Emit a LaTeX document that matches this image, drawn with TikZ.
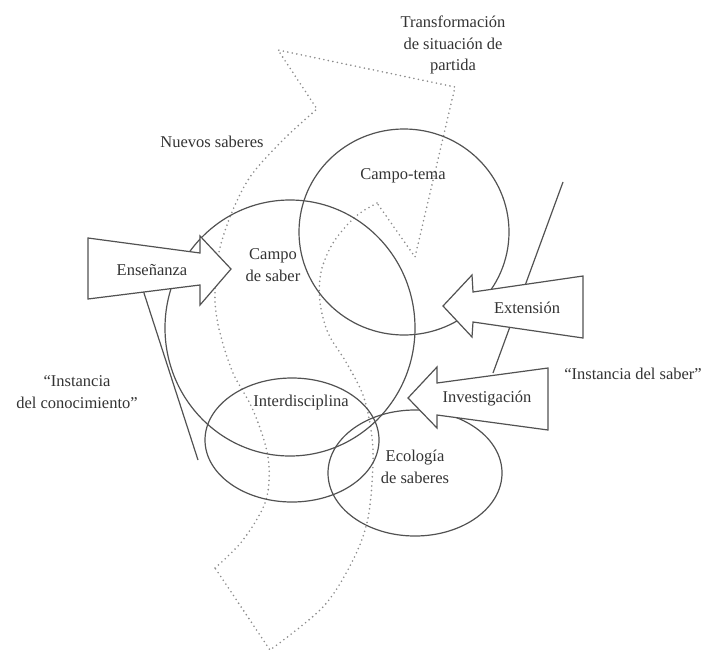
\documentclass[tikz,border=0pt]{standalone}
\usepackage{fontspec}
\setmainfont{Liberation Serif}
\begin{document}
\begin{tikzpicture}[x=1pt,y=-1pt,
  lbl/.style={inner sep=0pt, align=center, text=black!80, font=\fontsize{16.5}{21.5}\selectfont},
  solidline/.style={draw=black!68, line width=1.2pt},
  dotline/.style={draw=black!45, line width=1.8pt, line cap=round, dash pattern=on 0pt off 4.6pt},
  fatarrow/.style={draw=black!68, line width=1.2pt, fill=white, line join=miter}]
\useasboundingbox (0,0) rectangle (703,653);
% dotted curved arrow
\draw[dotline] plot[smooth, tension=0.55] coordinates {(215,568) (243,540) (266,500) (268,457) (253,410) (233,373) (220,333) (215,300) (218,257) (230,217) (250,177) (283,140) (317,109)}
  -- (278,50) -- (455,87) -- (415,257) -- (377,203);
\draw[dotline] plot[smooth, tension=0.55] coordinates {(377,203) (355,217) (333,243) (321,272) (320,302) (328,333) (346,362) (363,395) (371,430) (373,463) (368,518) (353,560) (323,607) (270,650)}
  -- (215,568);
% circles and ellipses
\draw[solidline] (290,328) ellipse [x radius=125pt, y radius=128pt];
\draw[solidline] (404,232) ellipse [x radius=105pt, y radius=103pt];
\draw[solidline] (292,440) ellipse [x radius=87pt, y radius=62pt];
\draw[solidline] (415,473) ellipse [x radius=87pt, y radius=63pt];
% straight lines
\draw[solidline] (143,290) -- (198,460);
\draw[solidline] (563,182) -- (493,373);
% fat arrows
\draw[fatarrow] (88,238) -- (200,253) -- (200,236) -- (231,269) -- (200,305) -- (200,285) -- (88,299) -- cycle;
\draw[fatarrow] (583,276) -- (473,292) -- (472,275) -- (443,306) -- (472,337) -- (473,322) -- (583,338) -- cycle;
\draw[fatarrow] (548,368) -- (437,383) -- (437,367) -- (408,398) -- (437,428) -- (437,415) -- (548,430) -- cycle;
% labels
\node[lbl] (transf) at (453,45) {Transformación\\de situación de\\partida};
\node[lbl] (nuevos) at (212,142) {Nuevos saberes};
\node[lbl] (tema) at (403,176) {Campo-tema};
\node[lbl] (saber) at (273,265) {Campo\\de saber};
\node[lbl] (ens) at (152,270) {Enseñanza};
\node[lbl] (ext) at (527,308) {Extensión};
\node[lbl] (inv) at (487,399) {Investigación};
\node[lbl] (isab) at (633,374) {“Instancia del saber”};
\node[lbl] (icon) at (77,392) {“Instancia\\del conocimiento”};
\node[lbl] (inter) at (301,403) {Interdisciplina};
\node[lbl] (eco) at (415,467) {Ecología\\de saberes};
\end{tikzpicture}
\end{document}
